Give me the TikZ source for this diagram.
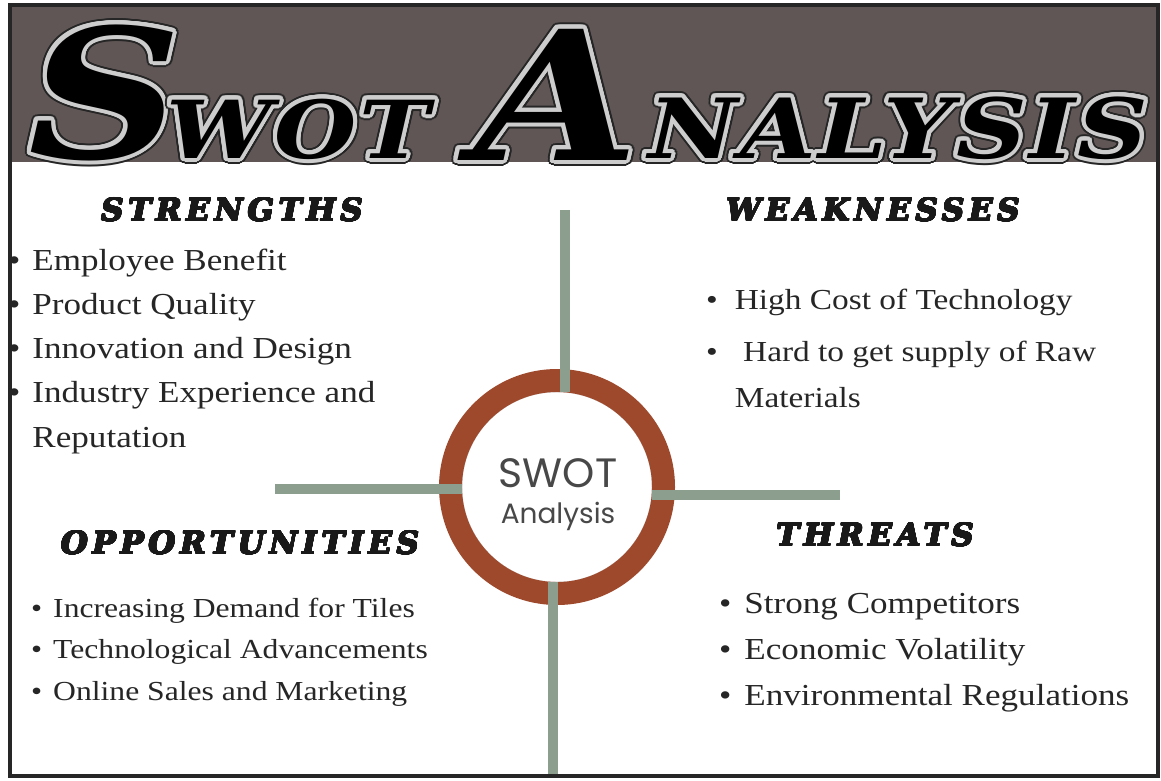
\documentclass[tikz,border=0pt]{standalone}
\usepackage{fontspec}
\setmainfont{Liberation Serif}[FakeStretch=1.15]
\newfontfamily\headfont{DejaVu Serif}[LetterSpace=15]
\newfontfamily\titlefont{DejaVu Serif}[FakeStretch=1.18, LetterSpace=3]
\newfontfamily\hubfont{Poppins}
\usepackage[copies]{contour}
\contournumber{32}
\usetikzlibrary{positioning, calc}

\definecolor{bandGray}{RGB}{96,86,86}
\definecolor{ringBrown}{RGB}{158,72,44}
\definecolor{barSage}{RGB}{140,158,142}
\definecolor{hubText}{RGB}{72,72,72}
\definecolor{haloGray}{RGB}{205,205,205}

\tikzset{
    heading/.style={font=\headfont\bfseries\itshape\fontsize{31}{31}\selectfont, inner sep=0pt, text=black!90},
    item/.style={font=\fontsize{30.5}{30.5}\selectfont, anchor=base west, inner sep=0pt, text=black!85},
    bar/.style={draw=barSage, line width=10pt},
    titlebig/.style={font=\titlefont\bfseries\itshape\fontsize{180}{180}\selectfont, anchor=base west, inner sep=0pt},
    titlesmall/.style={font=\titlefont\bfseries\itshape\fontsize{80}{80}\selectfont, anchor=base west, inner sep=0pt}
}

% title letters: dark rim, light halo, black fill
\newcommand{\rimtext}[1]{\contourlength{6pt}\contour{black!85}{#1}}
\newcommand{\halotext}[1]{\contourlength{4pt}\contour{haloGray}{#1}}
% heavier heading letters
\newcommand{\heavy}[1]{\contourlength{0.6pt}\contour{black!90}{#1}}

\begin{document}
\begin{tikzpicture}[x=1pt, y=-1pt]
    \useasboundingbox (0,0) rectangle (1161,780);
    \fill[white] (0,0) rectangle (1161,780);

    % header band
    \fill[bandGray] (10,6) rectangle (1158,162);

    % title
    \node[titlebig] (titleSrim) at (28,158) {\rimtext{S}};
    \node[titlebig] (titleS) at (28,158) {\halotext{S}};
    \node[titlesmall] (titleWOTrim) at (166,158) {\rimtext{WOT}};
    \node[titlesmall] (titleWOT) at (166,158) {\halotext{WOT}};
    \node[titlebig] (titleArim) at (474,160) {\rimtext{A}};
    \node[titlebig] (titleA) at (474,160) {\halotext{A}};
    \node[titlesmall, font=\titlefont\bfseries\itshape\fontsize{83}{83}\selectfont] (titleRestrim) at (648,158) {\rimtext{NALYSIS}};
    \node[titlesmall, font=\titlefont\bfseries\itshape\fontsize{83}{83}\selectfont] (titleRest) at (648,158) {\halotext{NALYSIS}};

    % hub with ring
    \node[circle, fill=white, draw=black!20, minimum size=190pt, inner sep=0pt] (hub) at (557,487) {};
    \draw[ringBrown, line width=23pt] (hub.center) circle (106.5);
    \node[font=\hubfont\fontsize{41}{41}\selectfont, text=hubText] (hubTop) at (558,473) {SWOT};
    \node[font=\hubfont\fontsize{28}{28}\selectfont, text=hubText] (hubBottom) at (558,516) {Analysis};

    % cross bars
    \coordinate (topEnd) at (565,210);
    \coordinate (leftEnd) at (275,489);
    \coordinate (rightEnd) at (840,495);
    \coordinate (bottomEnd) at (553,775);
    \draw[bar] (topEnd) -- (topEnd |- hub.north);
    \draw[bar] (leftEnd) -- (leftEnd -| hub.west);
    \draw[bar] (rightEnd) -- (rightEnd -| hub.east);
    \draw[bar] (bottomEnd) -- (bottomEnd |- hub.south);

    % headings
    \node[heading] (strTitle) at (232,210) {\heavy{STRENGTHS}};
    \node[heading] (weakTitle) at (873,210) {\heavy{WEAKNESSES}};
    \node[heading] (oppTitle) at (240,543) {\heavy{OPPORTUNITIES}};
    \node[heading] (thrTitle) at (875,535) {\heavy{THREATS}};

    % strengths
    \foreach \txt [count=\i] in {Employee Benefit, Product Quality, Innovation and Design, Industry Experience and} {
        \node[item] (str\i) at (8,{226+44*\i}) {\textbullet\hspace{12pt}\txt};
    }
    \node[item] (str5) at (str4.base west) [yshift=-45pt] {\phantom{\textbullet\hspace{12pt}}Reputation};

    % weaknesses
    \node[item, font=\fontsize{29}{29}\selectfont] (weak1) at (706,309) {\textbullet\hspace{17pt}High Cost of Technology};
    \node[item, font=\fontsize{29}{29}\selectfont] (weak2) at (706,361) {\textbullet\hspace{17pt} Hard to get supply of Raw};
    \node[item, font=\fontsize{29}{29}\selectfont] (weak3) at (706,407) {\phantom{\textbullet\hspace{17pt}}Materials};

    % opportunities
    \foreach \txt [count=\i] in {Increasing Demand for Tiles, Technological Advancements, Online Sales and Marketing} {
        \node[item, font=\fontsize{27.5}{27.5}\selectfont] (opp\i) at (31,{575.5+41.5*\i}) {\textbullet\hspace{11pt}\txt};
    }

    % threats
    \foreach \txt [count=\i] in {Strong Competitors, Economic Volatility, Environmental Regulations} {
        \node[item] (thr\i) at (719,{567+46*\i}) {\textbullet\hspace{13pt}\txt};
    }

    % outer frame
    \draw[black!85, line width=3.5pt] (10,5) rectangle (1158,776);
\end{tikzpicture}
\end{document}
